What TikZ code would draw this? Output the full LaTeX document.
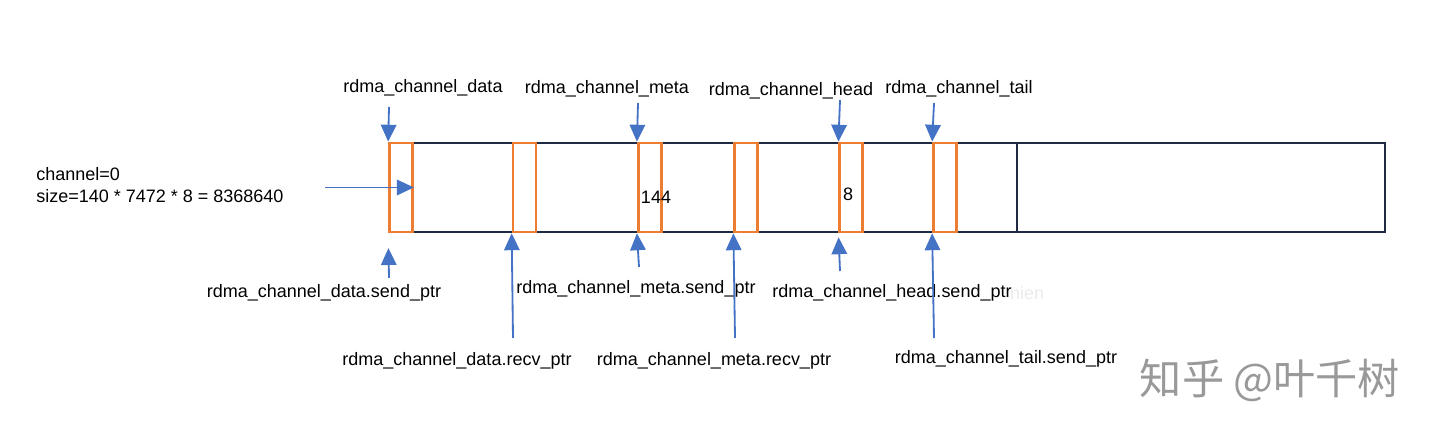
\documentclass[tikz,border=0pt]{standalone}
\usepackage{fontspec}
\setmainfont{Liberation Sans}
\newfontfamily\cjk{Noto Sans CJK SC}
\usepackage{tikz}
\usepackage{xcolor}
\usetikzlibrary{arrows.meta}
\definecolor{framecol}{HTML}{1F2A44}
\definecolor{slotcol}{HTML}{ED7D31}
\definecolor{arrowcol}{HTML}{4472C4}
\newcommand{\lbl}{\fontsize{12.8}{15.6}\selectfont}

\begin{document}
\begin{tikzpicture}
\useasboundingbox (0,0) rectangle (36,10.925);
\begin{scope}[every node/.style={rectangle, draw=framecol, line width=1.5pt, minimum height=2.225cm, inner sep=0pt}]
\node[minimum width=15.7cm] (BUF-A) at (17.575,6.2375) {};
\node[minimum width=9.2cm] (BUF-B) at (30.025,6.2375) {};
\end{scope}\begin{scope}[every node/.style={rectangle, draw=slotcol, line width=1.9pt, minimum width=0.575cm, minimum height=2.225cm, inner sep=0pt}]
\node (SLOT-DATA) at (10.025,6.2375) {};
\node (SLOT-DATA-RECV) at (13.1125,6.2375) {};
\node (SLOT-META) at (16.244,6.2375) {};
\node (SLOT-META-RECV) at (18.656,6.2375) {};
\node (SLOT-HEAD) at (21.281,6.2375) {};
\node (SLOT-TAIL) at (23.625,6.2375) {};
\end{scope}\begin{scope}[every node/.style={inner sep=0pt, font=\lbl}]
\node (TXT-DATA) at (10.575,8.725) {rdma\_channel\_data};
\node (TXT-META) at (15.175,8.7) {rdma\_channel\_meta};
\node (TXT-HEAD) at (19.775,8.65) {rdma\_channel\_head};
\node (TXT-TAIL) at (23.975,8.7) {rdma\_channel\_tail};
\node[anchor=west, align=left] (TXT-CHANNEL) at (0.9,6.3) {channel=0\\size=140 * 7472 * 8 = 8368640};
\node (TXT-DATA-SEND) at (8.1,3.6) {rdma\_channel\_data.send\_ptr};
\node (TXT-DATA-RECV) at (11.425,1.9) {rdma\_channel\_data.recv\_ptr};
\node (TXT-META-SEND) at (15.9,3.7) {rdma\_channel\_meta.send\_ptr};
\node (TXT-META-RECV) at (17.85,1.9) {rdma\_channel\_meta.recv\_ptr};
\node (TXT-HEAD-SEND) at (22.3,3.6) {rdma\_channel\_head.send\_ptr};
\node (TXT-TAIL-SEND) at (25.15,1.95) {rdma\_channel\_tail.send\_ptr};
\node (TXT-144) at (16.4,6.0) {144};
\node (TXT-8) at (21.2,6.075) {8};
\node[text=black!8] (TXT-NIEN) at (25.675,3.6) {nien};
\node[font=\cjk\fontsize{30}{32}\selectfont, text=black!40] (TXT-MARK) at (31.75,1.425) {知乎 @叶千树};
\end{scope}
\coordinate (P-DATA-TOP) at (9.725,8.25);
\coordinate (P-META-TOP) at (15.95,8.35);
\coordinate (P-HEAD-TOP) at (21.0,8.425);
\coordinate (P-TAIL-TOP) at (23.35,8.35);
\coordinate (P-SIZE) at (8.125,6.2375);
\coordinate (P-DATA-SEND) at (9.725,3.975);
\coordinate (P-DATA-RECV) at (12.825,2.475);
\coordinate (P-META-SEND) at (15.975,4.25);
\coordinate (P-META-RECV) at (18.375,2.475);
\coordinate (P-HEAD-SEND) at (21.0,4.15);
\coordinate (P-TAIL-SEND) at (23.35,2.475);
\begin{scope}[>={Triangle[length=12pt,width=11pt]}, every node/.style={fill=none}, every edge/.style={draw=arrowcol, line width=1.3pt}]
\path [->] (P-DATA-TOP)edge node {} (SLOT-DATA.north west);
\path [->] (P-META-TOP)edge node {} (SLOT-META.north west);
\path [->] (P-HEAD-TOP)edge node {} (SLOT-HEAD.north west);
\path [->] (P-TAIL-TOP)edge node {} (SLOT-TAIL.north west);
\path [->] (P-SIZE)edge node {} (SLOT-DATA.east);
\path [->, shorten >=0.37cm] (P-DATA-SEND)edge node {} (SLOT-DATA.south west);
\path [->] (P-DATA-RECV)edge node {} (SLOT-DATA-RECV.south west);
\path [->] (P-META-SEND)edge node {} (SLOT-META.south west);
\path [->] (P-META-RECV)edge node {} (SLOT-META-RECV.south west);
\path [->, shorten >=0.1cm] (P-HEAD-SEND)edge node {} (SLOT-HEAD.south west);
\path [->] (P-TAIL-SEND)edge node {} (SLOT-TAIL.south west);
\end{scope}
\end{tikzpicture}
\end{document}
